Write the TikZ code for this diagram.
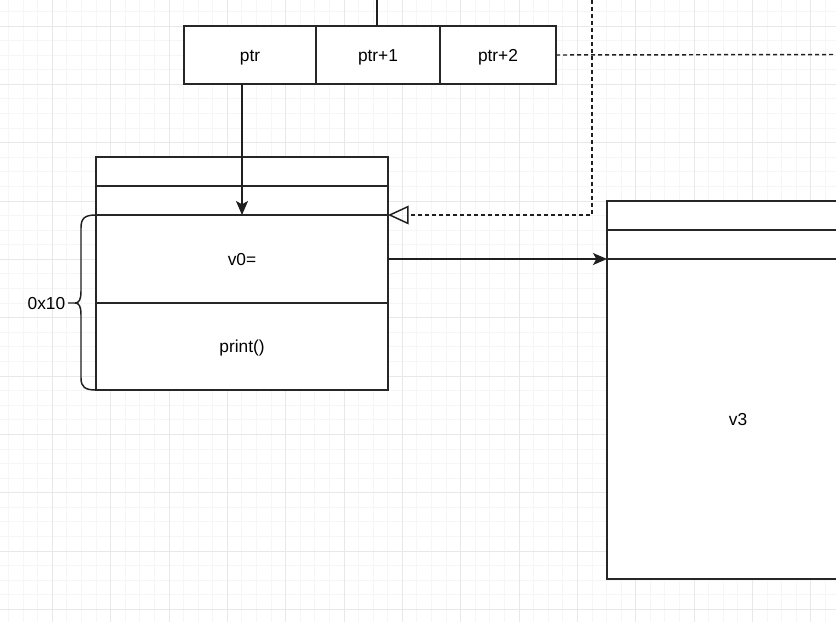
\documentclass[tikz,border=0pt]{standalone}
\usepackage{fontspec}
\setmainfont{Liberation Sans}
\usetikzlibrary{arrows.meta}
\def\pxl{*0.75pt}
\tikzset{
  gridminor/.style={draw=black!3.5, line width=0.75pt},
  gridmajor/.style={draw=black!9, line width=0.75pt},
  cell/.style={draw=black!85, fill=white, line width=1.1pt, inner sep=0pt, outer sep=0pt, anchor=north west, font=\fontsize{13}{15.6}\selectfont, align=center, text height=11.8pt, text depth=2.76pt},
  conn/.style={draw=black!88, line width=1.1pt},
  arr/.style={conn, -{Stealth[length=10.5pt,width=9pt,inset=2.5pt]}},
  dashline/.style={conn, dash pattern=on 3pt off 2.25pt},
  lbltext/.style={font=\fontsize{13}{15.6}\selectfont, inner sep=0pt, text height=11.8pt, text depth=2.76pt},
}
\begin{document}
\begin{tikzpicture}[x=0.75pt,y=-0.75pt]
\useasboundingbox (0,0) rectangle (836,622);
\clip (0,0) rectangle (836,622);
\fill[white] (0,0) rectangle (836,622);
% grid
\foreach \i in {0,...,57} \draw[gridminor] ({8.54+\i*14.5875},0) -- ({8.54+\i*14.5875},622);
\foreach \i in {0,...,41} \draw[gridminor] (0,{11.41+\i*14.5875}) -- (836,{11.41+\i*14.5875});
\foreach \i in {0,...,13} \draw[gridmajor] ({52.3+\i*58.35},0) -- ({52.3+\i*58.35},622);
\foreach \i in {0,...,10} \draw[gridmajor] (0,{26+\i*58.35}) -- (836,{26+\i*58.35});

% top array
\node[cell, minimum width=132\pxl, minimum height=58\pxl] (p0) at (184,26) {ptr};
\node[cell, minimum width=124\pxl, minimum height=58\pxl] (p1) at (316,26) {ptr+1};
\node[cell, minimum width=116\pxl, minimum height=58\pxl] (p2) at (440,26) {ptr+2};

% left class box
\node[cell, minimum width=292\pxl, minimum height=29\pxl] (a0) at (96,157) {};
\node[cell, minimum width=292\pxl, minimum height=29\pxl] (a1) at (96,186) {};
\node[cell, minimum width=292\pxl, minimum height=88\pxl] (a2) at (96,215) {v0=};
\node[cell, minimum width=292\pxl, minimum height=87\pxl] (a3) at (96,303) {print()};

% right class box
\node[cell, minimum width=262\pxl, minimum height=29\pxl] (b0) at (607,201) {};
\node[cell, minimum width=262\pxl, minimum height=29\pxl] (b1) at (607,230) {};
\node[cell, minimum width=262\pxl, minimum height=320\pxl] (b2) at (607,259) {v3};

% free ends
\coordinate (topin) at (377,0);
\coordinate (dashout) at (836,54.5);
\coordinate (dashtop) at (592,0);

% connectors
\draw[conn] (topin) -- (topin |- p1.north);
\draw[arr] (a1.north |- p0.south) -- (a2.north);
\draw[arr] (a2.east) -- (a2.east -| b2.north west);
\draw[dashline] (p2.east) -- (dashout);
\draw[dashline, -{Triangle[open,length=15.5pt,width=14pt]}] (dashtop) |- (a2.north east);

% brace and label
\draw[conn] (a2.north west) .. controls (85,215) and (81,218) .. (81,228) -- (81,291)
  .. controls (81,300) and (79,303) .. (75,303) -- (68,303)
  (75,303) .. controls (79,303) and (81,306) .. (81,315) -- (81,378)
  .. controls (81,387) and (85,390) .. (a3.south west);
\node[lbltext, anchor=east] (lbl) at (65.5,303) {0x10};
\end{tikzpicture}
\end{document}
